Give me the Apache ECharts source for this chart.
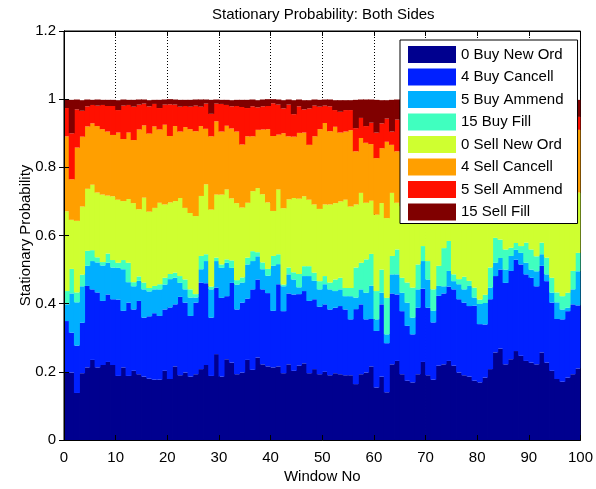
<!DOCTYPE html>
<html>
<head>
<meta charset="utf-8">
<script src="https://cdn.jsdelivr.net/npm/echarts@6/dist/echarts.min.js"></script>
<style>
	html, body { margin: 0; padding: 0; background: #fff; }
	#chart { width: 596px; height: 489px; }
</style>
</head>
<body>
<div id="chart"></div>
<script>
// window numbers on the x axis
var windows = [];
for (var i = 1; i <= 100; i++) windows.push(i);

var seriesNames = ['0 Buy New Ord', '4 Buy Cancell', '5 Buy Ammend', '15 Buy Fill',
	'0 Sell New Ord', '4 Sell Cancell', '5 Sell Ammend', '15 Sell Fill'];

// jet colormap picks
var seriesColors = ['#00008f', '#0020ff', '#00afff', '#40ffbf', '#cfff30', '#ff9f00', '#ff1000', '#800000'];

var buyNewOrd = [
	0.198, 0.198, 0.138, 0.196, 0.213, 0.235, 0.213, 0.220, 0.229, 0.220,
	0.188, 0.213, 0.188, 0.203, 0.193, 0.186, 0.180, 0.177, 0.177, 0.203,
	0.179, 0.216, 0.190, 0.198, 0.186, 0.193, 0.208, 0.220, 0.188, 0.252,
	0.186, 0.237, 0.227, 0.193, 0.198, 0.235, 0.206, 0.242, 0.222, 0.216,
	0.213, 0.216, 0.196, 0.222, 0.203, 0.218, 0.225, 0.196, 0.208, 0.193,
	0.200, 0.190, 0.196, 0.193, 0.190, 0.190, 0.164, 0.193, 0.198, 0.216,
	0.154, 0.186, 0.140, 0.222, 0.232, 0.193, 0.174, 0.169, 0.193, 0.229,
	0.190, 0.177, 0.218, 0.222, 0.232, 0.218, 0.198, 0.190, 0.186, 0.174,
	0.169, 0.183, 0.208, 0.257, 0.268, 0.222, 0.237, 0.261, 0.247, 0.232,
	0.227, 0.222, 0.257, 0.227, 0.203, 0.179, 0.171, 0.183, 0.193, 0.210
];
var buyCancell = [
	0.151, 0.117, 0.139, 0.148, 0.239, 0.207, 0.220, 0.188, 0.198, 0.193,
	0.224, 0.166, 0.215, 0.180, 0.215, 0.173, 0.183, 0.195, 0.187, 0.180,
	0.210, 0.182, 0.230, 0.205, 0.178, 0.210, 0.254, 0.240, 0.171, 0.195,
	0.231, 0.185, 0.234, 0.190, 0.205, 0.180, 0.236, 0.229, 0.220, 0.215,
	0.166, 0.241, 0.182, 0.208, 0.224, 0.210, 0.212, 0.212, 0.205, 0.198,
	0.198, 0.193, 0.192, 0.200, 0.193, 0.164, 0.220, 0.205, 0.156, 0.139,
	0.166, 0.212, 0.144, 0.208, 0.195, 0.185, 0.161, 0.141, 0.195, 0.215,
	0.198, 0.168, 0.205, 0.208, 0.218, 0.224, 0.215, 0.213, 0.207, 0.220,
	0.171, 0.156, 0.205, 0.224, 0.232, 0.239, 0.259, 0.268, 0.268, 0.254,
	0.249, 0.229, 0.254, 0.239, 0.200, 0.176, 0.183, 0.195, 0.205, 0.185
];
var buyAmmend = [
	0.049, 0.115, 0.127, 0.107, 0.059, 0.083, 0.088, 0.104, 0.093, 0.093,
	0.093, 0.122, 0.060, 0.068, 0.059, 0.083, 0.073, 0.070, 0.078, 0.073,
	0.083, 0.078, 0.041, 0.039, 0.054, 0.015, 0.039, 0.065, 0.083, 0.078,
	0.088, 0.098, 0.044, 0.073, 0.059, 0.100, 0.083, 0.068, 0.059, 0.051,
	0.132, 0.059, 0.073, 0.056, 0.044, 0.020, 0.044, 0.073, 0.054, 0.051,
	0.059, 0.059, 0.049, 0.049, 0.039, 0.068, 0.034, 0.044, 0.078, 0.098,
	0.034, 0.034, 0.026, 0.056, 0.059, 0.054, 0.068, 0.049, 0.054, 0.081,
	0.083, 0.034, 0.029, 0.021, 0.046, 0.024, 0.044, 0.039, 0.059, 0.024,
	0.059, 0.063, 0.034, 0.039, 0.034, 0.039, 0.044, 0.029, 0.034, 0.034,
	0.024, 0.044, 0.034, 0.020, 0.029, 0.049, 0.029, 0.010, 0.044, 0.100
];
var buyFill = [
	0.039, 0.072, 0.029, 0.034, 0.044, 0.032, 0.015, 0.010, 0.027, 0.022,
	0.015, 0.027, 0.057, 0.012, 0.013, 0.020, 0.010, 0.010, 0.015, 0.020,
	0.015, 0.015, 0.020, 0.029, 0.024, 0.010, 0.039, 0.020, 0.008, 0.010,
	0.010, 0.010, 0.022, 0.013, 0.015, 0.020, 0.029, 0.012, 0.020, 0.020,
	0.029, 0.029, 0.005, 0.020, 0.021, 0.039, 0.029, 0.029, 0.024, 0.024,
	0.024, 0.020, 0.034, 0.034, 0.024, 0.024, 0.088, 0.078, 0.098, 0.093,
	0.083, 0.068, 0.107, 0.054, 0.073, 0.044, 0.059, 0.088, 0.073, 0.044,
	0.054, 0.063, 0.059, 0.112, 0.088, 0.020, 0.015, 0.037, 0.015, 0.029,
	0.013, 0.024, 0.059, 0.073, 0.054, 0.059, 0.024, 0.020, 0.020, 0.059,
	0.059, 0.044, 0.034, 0.049, 0.044, 0.029, 0.039, 0.044, 0.054, 0.054
];
var sellNewOrd = [
	0.234, 0.144, 0.210, 0.200, 0.182, 0.192, 0.190, 0.198, 0.170, 0.187,
	0.185, 0.173, 0.187, 0.232, 0.197, 0.249, 0.224, 0.229, 0.239, 0.215,
	0.210, 0.210, 0.229, 0.210, 0.224, 0.229, 0.176, 0.205, 0.226, 0.185,
	0.205, 0.205, 0.182, 0.226, 0.205, 0.161, 0.176, 0.188, 0.200, 0.195,
	0.132, 0.190, 0.224, 0.200, 0.218, 0.221, 0.205, 0.195, 0.200, 0.212,
	0.210, 0.229, 0.224, 0.224, 0.259, 0.239, 0.185, 0.205, 0.166, 0.156,
	0.224, 0.195, 0.234, 0.185, 0.137, 0.210, 0.229, 0.229, 0.180, 0.137,
	0.176, 0.239, 0.185, 0.146, 0.132, 0.215, 0.220, 0.207, 0.229, 0.234,
	0.260, 0.249, 0.190, 0.127, 0.137, 0.151, 0.151, 0.151, 0.151, 0.137,
	0.151, 0.166, 0.141, 0.180, 0.224, 0.254, 0.259, 0.259, 0.220, 0.177
];
var sellCancell = [
	0.220, 0.119, 0.215, 0.205, 0.183, 0.180, 0.195, 0.192, 0.188, 0.180,
	0.197, 0.182, 0.195, 0.185, 0.234, 0.212, 0.229, 0.239, 0.215, 0.234,
	0.195, 0.220, 0.195, 0.237, 0.246, 0.249, 0.205, 0.163, 0.215, 0.215,
	0.185, 0.187, 0.205, 0.210, 0.185, 0.195, 0.161, 0.171, 0.190, 0.215,
	0.220, 0.161, 0.220, 0.185, 0.180, 0.193, 0.187, 0.161, 0.200, 0.234,
	0.239, 0.215, 0.224, 0.202, 0.200, 0.224, 0.156, 0.161, 0.176, 0.166,
	0.166, 0.161, 0.224, 0.141, 0.151, 0.195, 0.200, 0.200, 0.200, 0.195,
	0.185, 0.200, 0.200, 0.195, 0.185, 0.190, 0.195, 0.195, 0.200, 0.210,
	0.205, 0.205, 0.200, 0.185, 0.185, 0.190, 0.187, 0.182, 0.185, 0.185,
	0.185, 0.187, 0.182, 0.185, 0.190, 0.197, 0.200, 0.200, 0.190, 0.184
];
var sellAmmend = [
	0.083, 0.135, 0.112, 0.076, 0.059, 0.054, 0.060, 0.071, 0.075, 0.085,
	0.066, 0.098, 0.081, 0.098, 0.073, 0.064, 0.080, 0.066, 0.063, 0.059,
	0.093, 0.063, 0.073, 0.062, 0.066, 0.075, 0.057, 0.074, 0.066, 0.052,
	0.081, 0.061, 0.065, 0.075, 0.110, 0.083, 0.088, 0.066, 0.068, 0.068,
	0.096, 0.088, 0.073, 0.093, 0.066, 0.078, 0.068, 0.107, 0.090, 0.066,
	0.051, 0.073, 0.049, 0.061, 0.063, 0.059, 0.068, 0.059, 0.049, 0.063,
	0.075, 0.073, 0.068, 0.039, 0.093, 0.068, 0.063, 0.068, 0.063, 0.063,
	0.068, 0.068, 0.063, 0.059, 0.059, 0.066, 0.065, 0.068, 0.063, 0.063,
	0.071, 0.070, 0.063, 0.059, 0.057, 0.060, 0.060, 0.057, 0.060, 0.059,
	0.061, 0.062, 0.059, 0.059, 0.062, 0.066, 0.066, 0.060, 0.044, 0.038
];
var sellFill = [
	0.024, 0.098, 0.029, 0.031, 0.020, 0.015, 0.018, 0.015, 0.018, 0.018,
	0.029, 0.018, 0.015, 0.020, 0.015, 0.012, 0.018, 0.012, 0.024, 0.015,
	0.015, 0.015, 0.020, 0.018, 0.020, 0.018, 0.021, 0.012, 0.041, 0.012,
	0.012, 0.015, 0.018, 0.018, 0.021, 0.024, 0.020, 0.021, 0.020, 0.020,
	0.012, 0.015, 0.024, 0.015, 0.041, 0.020, 0.027, 0.024, 0.018, 0.020,
	0.018, 0.020, 0.029, 0.034, 0.029, 0.029, 0.083, 0.054, 0.078, 0.068,
	0.096, 0.068, 0.054, 0.093, 0.059, 0.049, 0.044, 0.054, 0.039, 0.034,
	0.044, 0.049, 0.039, 0.034, 0.039, 0.041, 0.047, 0.049, 0.039, 0.044,
	0.051, 0.047, 0.039, 0.034, 0.031, 0.037, 0.035, 0.029, 0.033, 0.039,
	0.041, 0.043, 0.037, 0.039, 0.045, 0.049, 0.051, 0.047, 0.049, 0.050
];

var seriesData = [buyNewOrd, buyCancell, buyAmmend, buyFill, sellNewOrd, sellCancell, sellAmmend, sellFill];

var font = 'Liberation Sans, Arial, sans-serif';

var series = [];
for (var k = 0; k < seriesNames.length; k++) {
	series.push({
		name: seriesNames[k],
		type: 'bar',
		stack: 'all',
		xAxisIndex: 0,
		yAxisIndex: 0,
		barWidth: 6,
		barGap: '-100%',
		clip: true,
		data: seriesData[k],
		itemStyle: {
			color: seriesColors[k],
			borderWidth: 0
		},
		emphasis: { disabled: true }
	});
}

var chart = echarts.init(document.getElementById('chart'), null, { renderer: 'canvas' });
var option = {
	animation: false,
	color: seriesColors,
	title: {
		text: 'Stationary Probability: Both Sides',
		left: 212,
		top: 7,
		padding: 0,
		textStyle: { fontFamily: font, fontSize: 15, fontWeight: 'normal', color: '#000' }
	},
	legend: {
		orient: 'vertical',
		left: 400,
		top: 40,
		padding: [6, 14, 3, 8],
		itemWidth: 48,
		itemHeight: 17,
		itemGap: 5.5,
		icon: 'rect',
		selectedMode: false,
		backgroundColor: '#fff',
		borderColor: '#000',
		borderWidth: 1,
		borderRadius: 0,
		textStyle: { fontFamily: font, fontSize: 15, color: '#000' },
		data: seriesNames
	},
	grid: {
		left: 64,
		right: 13,
		top: 31,
		bottom: 48,
		show: true,
		borderColor: '#000',
		borderWidth: 1,
		backgroundColor: '#fff'
	},
	xAxis: [
		{
			type: 'category',
			data: windows,
			show: false
		},
		{
			type: 'value',
			position: 'bottom',
			min: 0, max: 100, interval: 10,
			z: 10,
			name: 'Window No',
			nameLocation: 'middle',
			nameGap: 29,
			nameMoveOverlap: false,
			nameTextStyle: { fontFamily: font, fontSize: 15, color: '#000' },
			axisLine: { lineStyle: { color: '#000', width: 1 } },
			axisTick: { inside: true, length: 5, lineStyle: { color: '#000' } },
			axisLabel: { margin: 10, fontFamily: font, fontSize: 15, color: '#000' },
			splitLine: { show: false }
		},
		{
			type: 'value',
			position: 'top',
			min: 0, max: 100, interval: 10,
			z: 10,
			axisLine: { lineStyle: { color: '#000', width: 1 } },
			axisTick: { inside: true, length: 5, lineStyle: { color: '#000' } },
			axisLabel: { show: false },
			splitLine: { show: false }
		},
		{
			// dotted grid behind the bars
			type: 'value',
			position: 'bottom',
			min: 0, max: 100, interval: 10,
			z: 0,
			axisLine: { show: false },
			axisTick: { show: false },
			axisLabel: { show: false },
			splitLine: { show: true, lineStyle: { color: '#000', width: 1, type: [1, 2] } }
		}
	],
	yAxis: [
		{
			type: 'value',
			position: 'left',
			min: 0, max: 1.2, interval: 0.2,
			z: 10,
			name: 'Stationary Probability',
			nameLocation: 'middle',
			nameGap: 31,
			nameMoveOverlap: false,
			nameTextStyle: { fontFamily: font, fontSize: 15, color: '#000' },
			axisLine: { show: true, lineStyle: { color: '#000', width: 1 } },
			axisTick: { show: true, inside: true, length: 5, lineStyle: { color: '#000' } },
			axisLabel: { margin: 8, fontFamily: font, fontSize: 15, color: '#000' },
			splitLine: { show: false }
		},
		{
			type: 'value',
			position: 'right',
			min: 0, max: 1.2, interval: 0.2,
			z: 10,
			axisLine: { show: true, lineStyle: { color: '#000', width: 1 } },
			axisTick: { show: true, inside: true, length: 5, lineStyle: { color: '#000' } },
			axisLabel: { show: false },
			splitLine: { show: false }
		}
	],
	series: series
};
chart.setOption(option);
</script>
</body>
</html>
